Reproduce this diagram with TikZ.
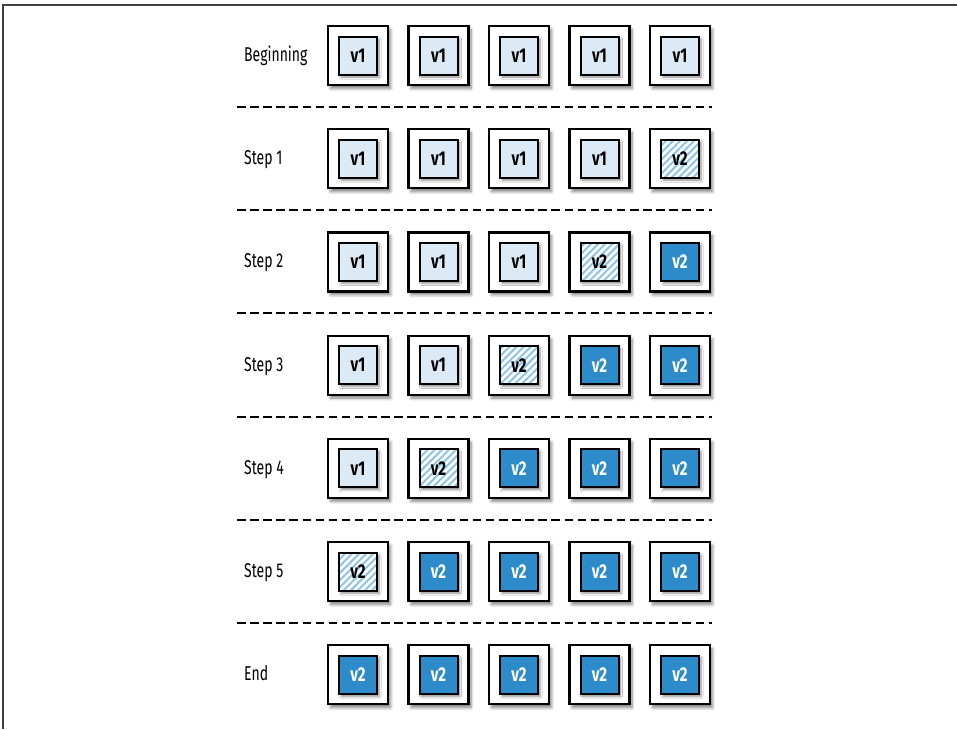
\documentclass[tikz,border=0pt]{standalone}
\usepackage{fontspec}
\setmainfont[FakeStretch=0.75]{Fira Sans}
\newfontfamily\labfont[FakeStretch=0.7]{Fira Sans}
\usetikzlibrary{shadows.blur,patterns.meta}
\definecolor{lightfill}{HTML}{DCEAF5}
\definecolor{darkfill}{HTML}{2E8BC9}
\definecolor{stripe}{HTML}{8CC4E8}
\tikzset{
  outerbox/.style={draw=black, line width=2.2pt, fill=white, minimum width=60pt, minimum height=59pt, inner sep=0pt,
     blur shadow={shadow xshift=2.5pt, shadow yshift=-3.5pt, shadow blur steps=6, shadow blur radius=3pt, shadow opacity=50}},
  vtext/.style={font=\bfseries\fontsize{20}{20}\selectfont},
  innerbase/.style={draw=black, line width=2pt, minimum size=38pt, inner sep=0pt, vtext,
     blur shadow={shadow xshift=2pt, shadow yshift=-2.5pt, shadow blur steps=5, shadow blur radius=2pt, shadow opacity=45}},
  oldver/.style={innerbase, fill=lightfill, text=black},
  newver/.style={innerbase, fill=darkfill, text=white},
  rolling/.style={innerbase, preaction={fill=white}, pattern={Lines[angle=45,distance=5pt,line width=2pt]}, pattern color=stripe, text=black},
  rowlabel/.style={anchor=base west, font=\labfont\fontsize{20}{20}\selectfont, inner sep=0pt},
  sep/.style={line width=2pt, dash pattern=on 8.5pt off 4.6pt},
  frame/.style={draw=black!75, line width=1.6pt}
}
\begin{document}
\begin{tikzpicture}[x=1pt,y=-1pt]
\useasboundingbox (0,0) rectangle (957,729);
\draw[frame] (3,729) -- (3,5) -- (957,5);
\foreach \r/\lab in {0/Beginning,1/Step 1,2/Step 2,3/Step 3,4/Step 4,5/Step 5,6/End}{
  \pgfmathsetmacro{\yy}{55.5+103.2*\r}
  \node[rowlabel] (l\r) at (244,\yy+6) {\lab};
  \foreach \c/\xx in {1/358,2/438.5,3/519,4/599.5,5/680}{
    \node[outerbox] (o\r\c) at (\xx,\yy) {};
    \pgfmathtruncatemacro{\hc}{6-\r}
    \ifnum\r=0
      \node[oldver] (i\r\c) at (o\r\c) {v1};
    \else\ifnum\r=6
      \node[newver] (i\r\c) at (o\r\c) {v2};
    \else
      \ifnum\c<\hc
        \node[oldver] (i\r\c) at (o\r\c) {v1};
      \else\ifnum\c=\hc
        \node[rolling] (i\r\c) at (o\r\c) {};
        \node[vtext, inner sep=0pt] (t\r\c) at (i\r\c) {v2};
      \else
        \node[newver] (i\r\c) at (o\r\c) {v2};
      \fi\fi
    \fi\fi
  }
}
\foreach \r in {0,...,5}{
  \pgfmathsetmacro{\yd}{107+103.2*\r}
  \draw[sep] (237,\yd) -- (712,\yd);
}
\end{tikzpicture}
\end{document}
